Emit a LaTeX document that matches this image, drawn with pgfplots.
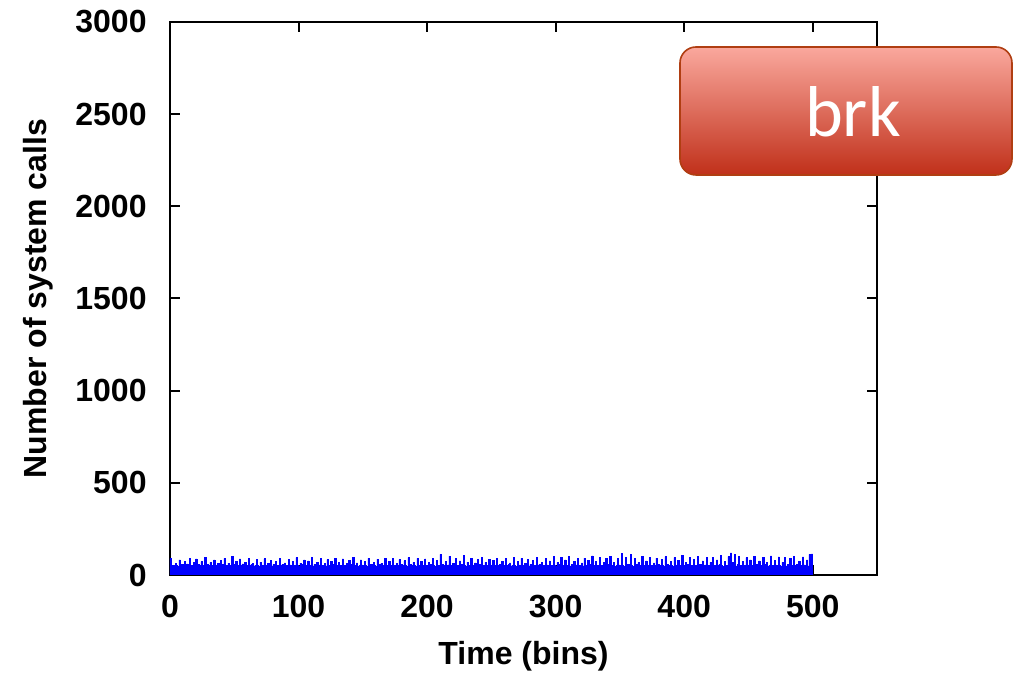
\documentclass[border=0pt]{standalone}
\usepackage{pgfplots}
\pgfplotsset{compat=1.18}
\usepackage{fontspec}
\setmainfont{Liberation Sans}
\newfontfamily\calib{Carlito}
\definecolor{boxtop}{HTML}{FAA89D}
\definecolor{boxbot}{HTML}{C0301A}
\definecolor{boxedge}{HTML}{B03E12}
\begin{document}
\begin{tikzpicture}
\begin{axis}[
  scale only axis,
  width=353.5pt, height=276.5pt,
  xmin=0, xmax=550, ymin=0, ymax=3000,
  xtick={0,100,...,500},
  ytick={0,500,...,3000},
  tick pos=both, ticklabel pos=left,
  tick align=inside,
  major tick length=5pt,
  axis line style={line width=1pt},
  every tick/.style={black, line width=1pt},
  /pgf/number format/assume math mode=true,
  tick label style={font=\fontsize{16}{16}\selectfont\bfseries},
  xticklabel style={inner sep=0pt, anchor=north, yshift=-10pt},
  yticklabel style={inner sep=0pt, anchor=east, xshift=-11.5pt},
  scaled y ticks=false,
  yticklabel={\pgfmathprintnumber[fixed,int detect,1000 sep={}]{\tick}},
  xlabel={Time (bins)},
  ylabel={Number of system calls},
  label style={font=\fontsize{16}{16}\selectfont\bfseries},
  xlabel style={at={([yshift=-40.5pt]axis description cs:0.5,0)}, anchor=center},
  ylabel style={at={([xshift=-66pt]axis description cs:0,0.5)}, anchor=center},
]
\addplot[const plot mark left, fill=blue, draw=blue, line width=0.3pt] table[x expr=\coordindex, y index=0, header=false, row sep=\\] {
90\\50\\54\\46\\64\\52\\48\\82\\49\\57\\
52\\74\\47\\60\\51\\92\\54\\49\\67\\52\\
87\\48\\57\\51\\72\\54\\46\\94\\52\\59\\
50\\68\\53\\47\\82\\55\\49\\62\\52\\77\\
48\\57\\90\\51\\54\\65\\47\\52\\100\\56\\
49\\72\\53\\48\\87\\52\\60\\50\\68\\54\\
47\\92\\51\\57\\64\\49\\54\\84\\52\\48\\
70\\55\\50\\88\\53\\47\\62\\52\\80\\49\\
57\\51\\74\\54\\48\\90\\52\\59\\50\\66\\
53\\47\\86\\55\\51\\72\\49\\54\\94\\52\\
48\\64\\57\\50\\82\\52\\47\\76\\54\\51\\
97\\49\\58\\52\\70\\47\\55\\88\\51\\53\\
62\\49\\84\\54\\48\\73\\52\\57\\92\\50\\
47\\68\\54\\51\\87\\53\\49\\64\\52\\80\\
48\\56\\95\\50\\54\\66\\47\\52\\82\\55\\
49\\74\\53\\48\\90\\52\\59\\50\\70\\54\\
47\\86\\51\\57\\64\\49\\54\\92\\52\\48\\
72\\55\\50\\88\\53\\47\\62\\52\\84\\49\\
57\\51\\77\\54\\48\\94\\52\\59\\50\\68\\
53\\47\\90\\55\\51\\74\\49\\54\\87\\52\\
48\\67\\57\\50\\92\\52\\47\\80\\54\\51\\
112\\49\\58\\52\\72\\47\\55\\102\\51\\53\\
64\\49\\88\\54\\48\\76\\52\\57\\107\\50\\
47\\70\\54\\51\\90\\53\\49\\66\\52\\84\\
48\\56\\97\\50\\54\\68\\47\\52\\86\\55\\
49\\77\\53\\48\\92\\52\\59\\50\\72\\54\\
47\\88\\51\\57\\66\\49\\54\\94\\52\\48\\
74\\55\\50\\90\\53\\47\\64\\52\\86\\49\\
57\\51\\80\\54\\48\\97\\52\\59\\50\\70\\
53\\47\\92\\55\\51\\76\\49\\54\\102\\52\\
48\\68\\57\\50\\94\\52\\47\\82\\54\\51\\
100\\49\\58\\52\\74\\47\\55\\90\\51\\53\\
66\\49\\92\\54\\48\\78\\52\\57\\104\\50\\
47\\72\\54\\51\\94\\53\\49\\68\\52\\88\\
48\\56\\100\\50\\54\\70\\47\\52\\90\\55\\
49\\117\\53\\48\\97\\52\\59\\50\\112\\54\\
47\\90\\51\\57\\68\\49\\54\\102\\52\\48\\
76\\55\\50\\97\\53\\47\\66\\52\\92\\49\\
57\\51\\84\\54\\48\\100\\52\\59\\50\\72\\
53\\47\\94\\55\\51\\78\\49\\54\\106\\52\\
48\\70\\57\\50\\97\\52\\47\\86\\54\\51\\
102\\49\\58\\52\\76\\47\\55\\94\\51\\53\\
68\\49\\96\\54\\48\\82\\52\\57\\108\\50\\
47\\74\\54\\51\\100\\53\\120\\70\\52\\110\\
48\\56\\102\\50\\54\\72\\47\\52\\94\\55\\
49\\82\\53\\48\\100\\52\\59\\50\\76\\54\\
47\\94\\51\\57\\70\\49\\54\\104\\52\\48\\
78\\55\\50\\98\\53\\47\\68\\52\\96\\49\\
57\\51\\88\\54\\48\\102\\52\\59\\50\\74\\
53\\47\\98\\55\\51\\82\\49\\112\\106\\114\\
62\\
} \closedcycle;
\end{axis}
\draw[rounded corners=8pt, line width=0.8pt, draw=boxedge, top color=boxtop, bottom color=boxbot] (255pt,200pt) rectangle (421pt,264pt);
\node[anchor=base, text=white, font=\calib\fontsize{36}{36}\selectfont, inner sep=0pt] at (341.5pt,219pt) {brk};
\path[use as bounding box] (-85pt,-49pt) rectangle (422pt,287.5pt);
\end{tikzpicture}
\end{document}
